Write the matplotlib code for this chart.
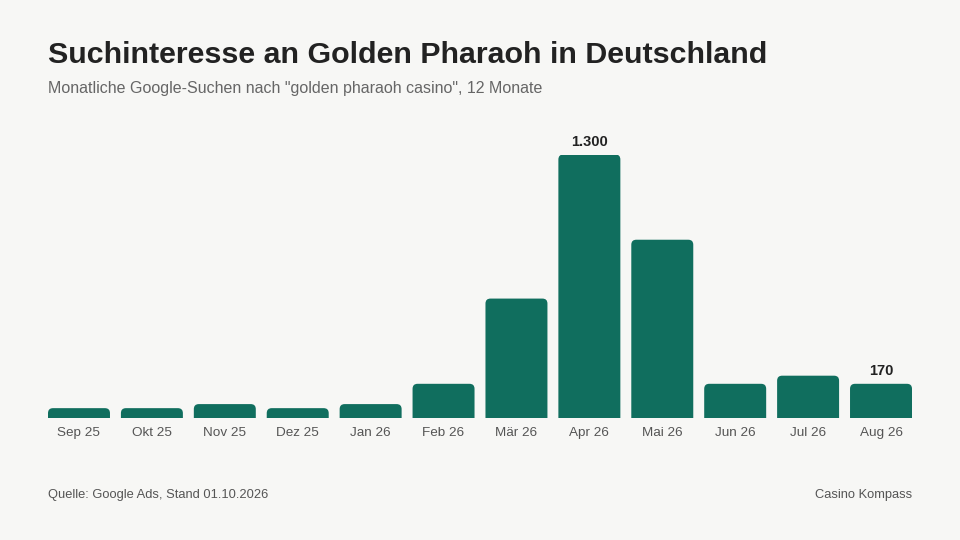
import matplotlib.pyplot as plt
from matplotlib.patches import FancyBboxPatch

plt.rcParams['font.family'] = ['Liberation Sans', 'DejaVu Sans']

months = ['Sep 25', 'Okt 25', 'Nov 25', 'Dez 25', 'Jan 26', 'Feb 26',
          'Mär 26', 'Apr 26', 'Mai 26', 'Jun 26', 'Jul 26', 'Aug 26']
searches = [50, 50, 70, 50, 70, 170, 590, 1300, 880, 170, 210, 170]
labelled = {7: '1.300', 11: '170'}

bg = '#f7f7f5'
green = '#106e5e'

fig = plt.figure(figsize=(9.6, 5.4), dpi=100, facecolor=bg)
ax = fig.add_axes([48/960, 1 - 418.3/540, 864/960, 263.8/540])
ax.set_facecolor(bg)

x = range(len(months))
bars = ax.bar(x, searches, width=0.85, color=green)
ax.set_xlim(-0.425, len(months) - 0.575)
ax.set_ylim(0, 1300)

# swap plain rectangles for ones with rounded tops
px_x = 864 / 11.85
px_y = 263.8 / 1300
asp = px_x / px_y
r = 5 / px_x
for b in bars:
    b.set_visible(False)
    bx, bw, bh = b.get_x(), b.get_width(), b.get_height()
    p = FancyBboxPatch((bx + r, -30), bw - 2 * r, bh + 30 - r * asp,
                       boxstyle=f'round,pad={r}', mutation_aspect=asp,
                       facecolor=green, edgecolor='none', clip_on=True)
    ax.add_patch(p)

for i, txt in labelled.items():
    ax.annotate(txt, (i, searches[i]), xytext=(0, 4), textcoords='offset points',
                ha='center', va='bottom', fontsize=10.5, fontweight='bold',
                color='#222222', annotation_clip=False)

ax.set_xticks(list(x))
ax.set_xticklabels(months, fontsize=9.7, color='#555555')
ax.tick_params(axis='x', length=0, pad=6.5)
ax.set_yticks([])
for s in ax.spines.values():
    s.set_visible(False)

fig.text(48/960, 1 - 55/540, 'Suchinteresse an Golden Pharaoh in Deutschland',
         fontsize=21.9, fontweight='bold', color='#222222', va='center')
fig.text(48/960, 1 - 89/540, 'Monatliche Google-Suchen nach "golden pharaoh casino", 12 Monate',
         fontsize=11.5, color='#666666', va='center')
fig.text(48/960, 1 - 495/540, 'Quelle: Google Ads, Stand 01.10.2026',
         fontsize=9.3, color='#555555', va='center')
fig.text(912/960, 1 - 495/540, 'Casino Kompass',
         fontsize=9.3, color='#555555', va='center', ha='right')

fig.savefig('out.png', dpi=100, facecolor=bg)
